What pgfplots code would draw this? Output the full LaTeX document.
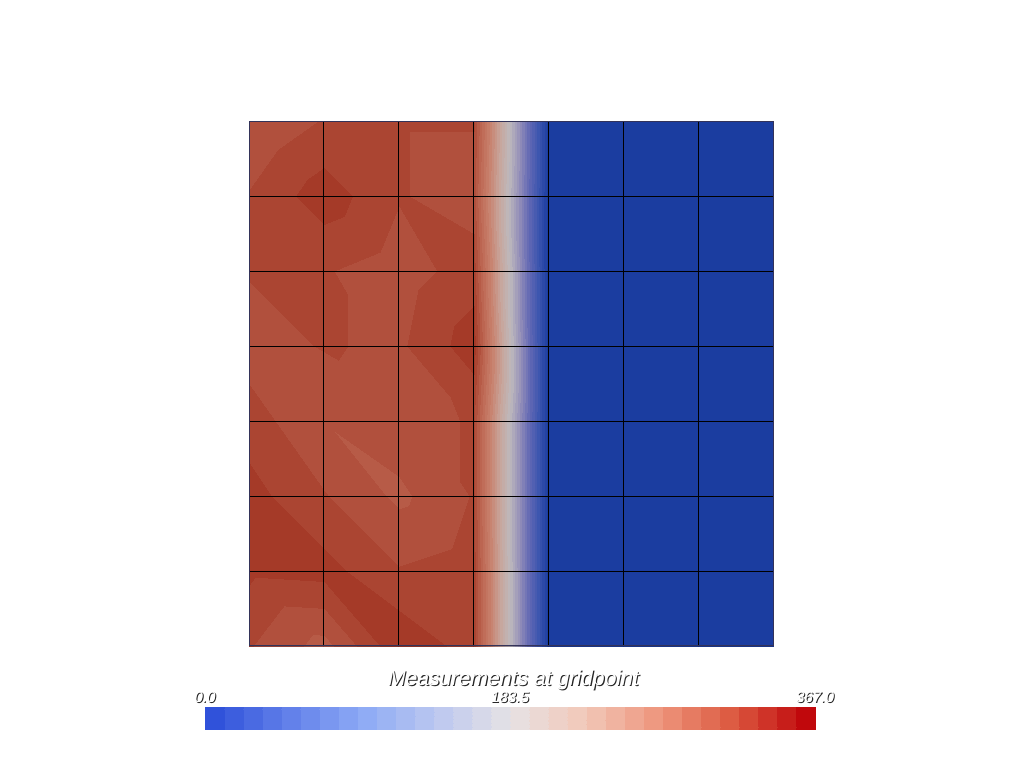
\documentclass[border=0pt]{standalone}
\usepackage{fontspec}
\setmainfont{Liberation Sans}
\usepackage{pgfplots}
\pgfplotsset{compat=1.18}

% text with a dark drop shadow, as VTK draws it
\newcommand\sh[1]{\makebox[0pt][l]{\hspace{0.55pt}\raisebox{-0.55pt}{\color{black!85}#1}}{\color{white}#1}}

\pgfplotsset{
  colormap={cwlit}{rgb255=(27,61,160) rgb255=(60,85,175) rgb255=(100,105,180)
    rgb255=(150,145,185) rgb255=(190,185,188) rgb255=(200,165,155)
    rgb255=(200,130,110) rgb255=(188,100,80) rgb255=(165,58,40)},
  colormap={cwlitd}{samples of colormap=(32 of cwlit)},
  colormap={cwbar}{rgb255=(48,82,218) rgb255=(98,128,234) rgb255=(141,170,245)
    rgb255=(188,200,240) rgb255=(230,226,228) rgb255=(242,200,185)
    rgb255=(238,150,125) rgb255=(220,90,65) rgb255=(192,8,12)},
  colormap={cwbard}{samples of colormap=(32 of cwbar)},
}

\begin{document}
\begin{tikzpicture}
\path[use as bounding box] (0,0) rectangle (512pt,384pt);

\begin{axis}[
  at={(124.5pt,61pt)}, anchor=south west,
  scale only axis, width=262.5pt, height=262.5pt,
  view={0}{90}, hide axis,
  xmin=0, xmax=7, ymin=0, ymax=7,
  colormap name=cwlitd, colormap access=piecewise constant,
  point meta min=0, point meta max=367,
]
\addplot3[surf, shader=faceted interp, faceted color=black, line width=0.5pt, mesh/cols=8]
table {
x y z
0 0 345
1 0 328
2 0 365
3 0 350
4 0 0
5 0 0
6 0 0
7 0 0
0 1 358
1 1 360
2 1 345
3 1 350
4 1 0
5 1 0
6 1 0
7 1 0
0 2 360
1 2 345
2 2 330
3 2 345
4 2 0
5 2 0
6 2 0
7 2 0
0 3 350
1 3 333
2 3 340
3 3 345
4 3 0
5 3 0
6 3 0
7 3 0
0 4 338
1 4 345
2 4 342
3 4 362
4 4 0
5 4 0
6 4 0
7 4 0
0 5 345
1 5 345
2 5 338
3 5 350
4 5 0
5 5 0
6 5 0
7 5 0
0 6 345
1 6 362
2 6 345
3 6 338
4 6 0
5 6 0
6 6 0
7 6 0
0 7 333
1 7 345
2 7 345
3 7 345
4 7 0
5 7 0
6 7 0
7 7 0
};
\draw[line width=0.9pt, draw=black!75!blue!60!gray] (rel axis cs:0,0,0) rectangle (rel axis cs:1,1,0);
\end{axis}

% colour bar, brighter than the lit surface
\begin{axis}[
  at={(124.5pt,61pt)}, anchor=south west,
  scale only axis, width=262.5pt, height=262.5pt,
  hide axis, xmin=0, xmax=1, ymin=0, ymax=1,
  colormap name=cwbard, colormap access=piecewise constant,
  point meta min=0, point meta max=367,
  colorbar horizontal,
  colorbar style={
    at={(parent axis.south)}, anchor=north, yshift=-22pt, xshift=-0.75pt,
    scale only axis, width=305pt, height=11pt,
    axis line style={draw=none}, major tick length=0pt,
    xtick={0,183.5,367}, xticklabels={\sh{0.0},\sh{183.5},\sh{367.0}},
    xticklabel pos=upper,
    xticklabel style={font=\fontsize{7.6}{8}\selectfont\itshape, anchor=base, inner sep=0pt, yshift=2.2pt},
  },
]
\end{axis}

\node[anchor=base, inner sep=0pt, font=\fontsize{10.6}{12}\selectfont\itshape] at (256.75pt,41.3pt) {\sh{Measurements at gridpoint}};
\end{tikzpicture}
\end{document}
